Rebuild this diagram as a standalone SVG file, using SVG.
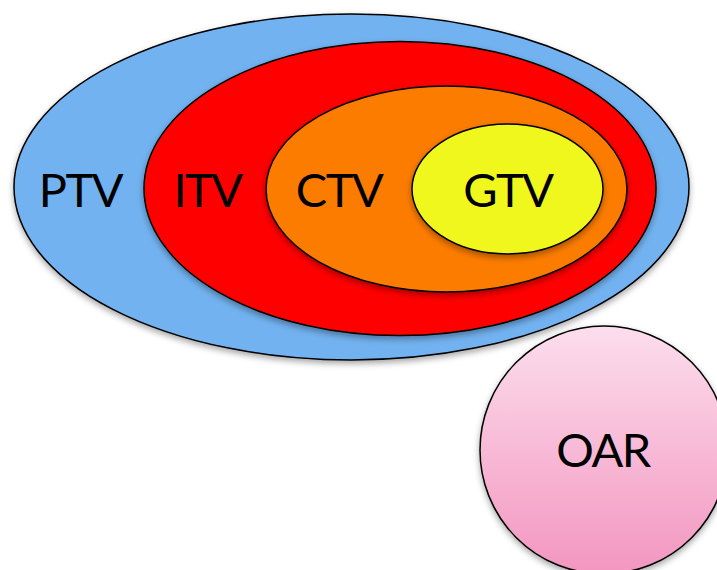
<svg xmlns="http://www.w3.org/2000/svg" width="717" height="570" viewBox="0 0 717 570">
<defs>
<filter id="sh" x="-10%" y="-10%" width="120%" height="130%">
<feDropShadow dx="0" dy="3" stdDeviation="3" flood-color="#000" flood-opacity="0.35"/>
</filter>
<linearGradient id="pink" x1="0" y1="0" x2="0" y2="1">
<stop offset="0" stop-color="#fcdeed"/>
<stop offset="1" stop-color="#f396c0"/>
</linearGradient>
</defs>
<style>
.shape{stroke:#000;stroke-width:1.5;filter:url(#sh)}
.lbl{font-family:"Lato","Open Sans","DejaVu Sans",sans-serif;font-size:47px;letter-spacing:-1.5px;fill:#000;text-anchor:middle}
</style>
<rect width="717" height="570" fill="#fff"/>
<g id="PTV"><ellipse class="shape" cx="351.5" cy="187" rx="337.5" ry="173" fill="#72b2f0"/></g>
<g id="ITV"><ellipse class="shape" cx="400" cy="188.5" rx="256" ry="147" fill="#ff0000"/></g>
<g id="CTV"><ellipse class="shape" cx="446.5" cy="189" rx="180.5" ry="103" fill="#fc7b00"/></g>
<g id="GTV"><ellipse class="shape" cx="507.5" cy="189" rx="95.5" ry="65" fill="#f0f71a"/></g>
<g id="OAR"><circle class="shape" cx="604" cy="450" r="124" fill="url(#pink)"/></g>
<g id="labels">
<text class="lbl" x="80.5" y="207">PTV</text>
<text class="lbl" x="207.5" y="207">ITV</text>
<text class="lbl" x="339" y="207">CTV</text>
<text class="lbl" x="508" y="207">GTV</text>
<text class="lbl" x="603" y="467">OAR</text>
</g>
<g id="connectors"/>
</svg>
